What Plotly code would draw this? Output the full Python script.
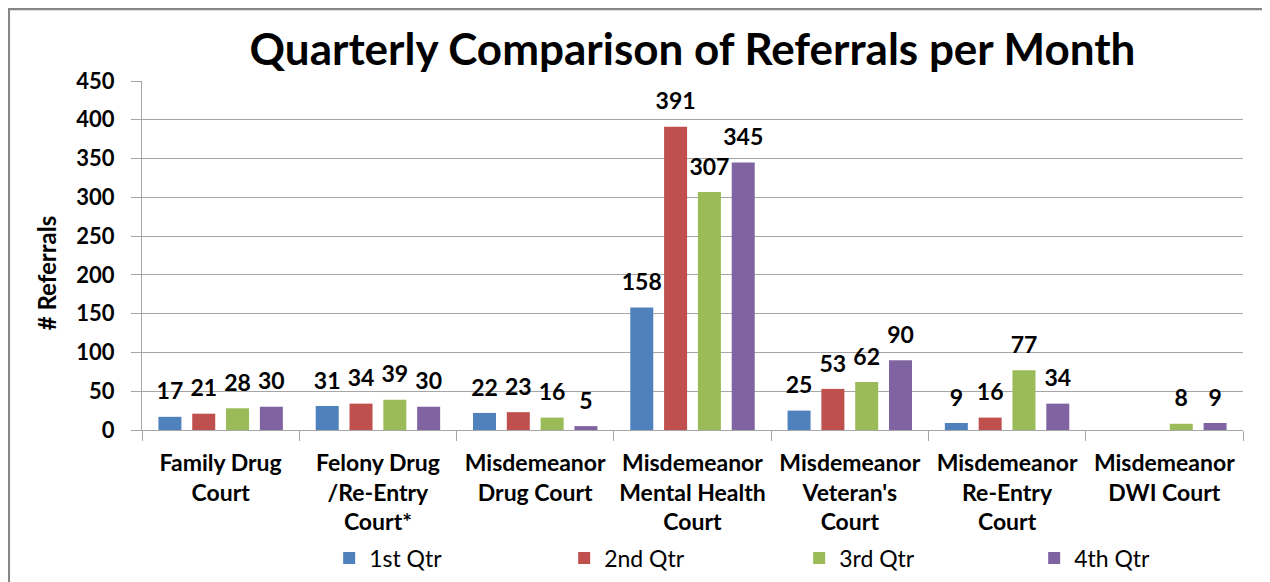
import plotly.graph_objects as go

courts = [
    "Family Drug<br>Court",
    "Felony Drug<br>/Re-Entry<br>Court*",
    "Misdemeanor<br>Drug Court",
    "Misdemeanor<br>Mental Health<br>Court",
    "Misdemeanor<br>Veteran's<br>Court",
    "Misdemeanor<br>Re-Entry<br>Court",
    "Misdemeanor<br>DWI Court",
]
qtr1 = [17, 31, 22, 158, 25, 9, None]
qtr2 = [21, 34, 23, 391, 53, 16, None]
qtr3 = [28, 39, 16, 307, 62, 77, 8]
qtr4 = [30, 30, 5, 345, 90, 34, 9]

series = [
    ("1st Qtr", qtr1, "#4F81BD"),
    ("2nd Qtr", qtr2, "#C0504D"),
    ("3rd Qtr", qtr3, "#9BBB59"),
    ("4th Qtr", qtr4, "#8064A2"),
]

FONT = "Lato"
fig = go.Figure()

# Balken
for name, vals, col in series:
    fig.add_trace(go.Bar(
        x=courts, y=vals, name=name,
        marker=dict(color=col, line=dict(width=0)),
    ))

# Datenbeschriftung ueber den Balken (unsichtbarer Marker als Abstand)
for name, vals, col in series:
    fig.add_trace(go.Scatter(
        x=courts, y=vals, mode="markers+text",
        marker=dict(size=17, color="rgba(0,0,0,0)"),
        text=[("" if v is None else str(v)) for v in vals],
        textposition="top center",
        textfont=dict(family=FONT, size=23, color="#000000", weight="bold"),
        showlegend=False, hoverinfo="skip", cliponaxis=False,
    ))

fig.update_layout(
    width=1262, height=574,
    margin=dict(l=134, r=27, t=73, b=152, autoexpand=False),
    paper_bgcolor="white", plot_bgcolor="white",
    barmode="group", bargap=0.14, bargroupgap=0.32,
    scattermode="group", scattergap=0.14,
    title=dict(
        text="Quarterly Comparison of Referrals per Month",
        x=0.5, xref="paper", xanchor="center",
        y=0.927, yref="container", yanchor="middle",
        font=dict(family=FONT, size=44, color="#000000", weight="bold"),
    ),
    legend=dict(
        orientation="h", x=0.170, xanchor="left", y=-0.367, yanchor="middle",
        entrywidth=190, entrywidthmode="pixels",
        font=dict(family=FONT, size=23, color="#000000"),
        itemwidth=30,
    ),
    annotations=[dict(
        text="# Referrals", textangle=-90,
        xref="paper", yref="paper", x=-0.086, y=0.45,
        xanchor="center", yanchor="middle", showarrow=False,
        font=dict(family=FONT, size=24, color="#000000", weight="bold"),
    )],
    shapes=[dict(
        type="rect", xref="paper", yref="paper",
        x0=-0.1212, x1=1.2, y0=-0.6, y1=1.207,
        line=dict(color="#868686", width=3), layer="below",
    )],
)

fig.update_yaxes(
    range=[0, 450], dtick=50, automargin=False,
    showgrid=True, gridcolor="#A6A6A6", gridwidth=1,
    showline=True, linecolor="#A6A6A6", linewidth=1,
    ticks="outside", ticklen=10, tickcolor="#A6A6A6",
    ticklabelstandoff=12, zeroline=False,
    tickfont=dict(family=FONT, size=22, color="#000000", weight="bold"),
)
fig.update_xaxes(
    automargin=False, tickangle=0,
    showline=True, linecolor="#A6A6A6", linewidth=1,
    ticks="outside", ticklen=10, tickcolor="#A6A6A6", tickson="boundaries",
    ticklabelstandoff=12,
    tickfont=dict(family=FONT, size=23, color="#000000", weight="bold"),
)

fig.write_html("out.html")
